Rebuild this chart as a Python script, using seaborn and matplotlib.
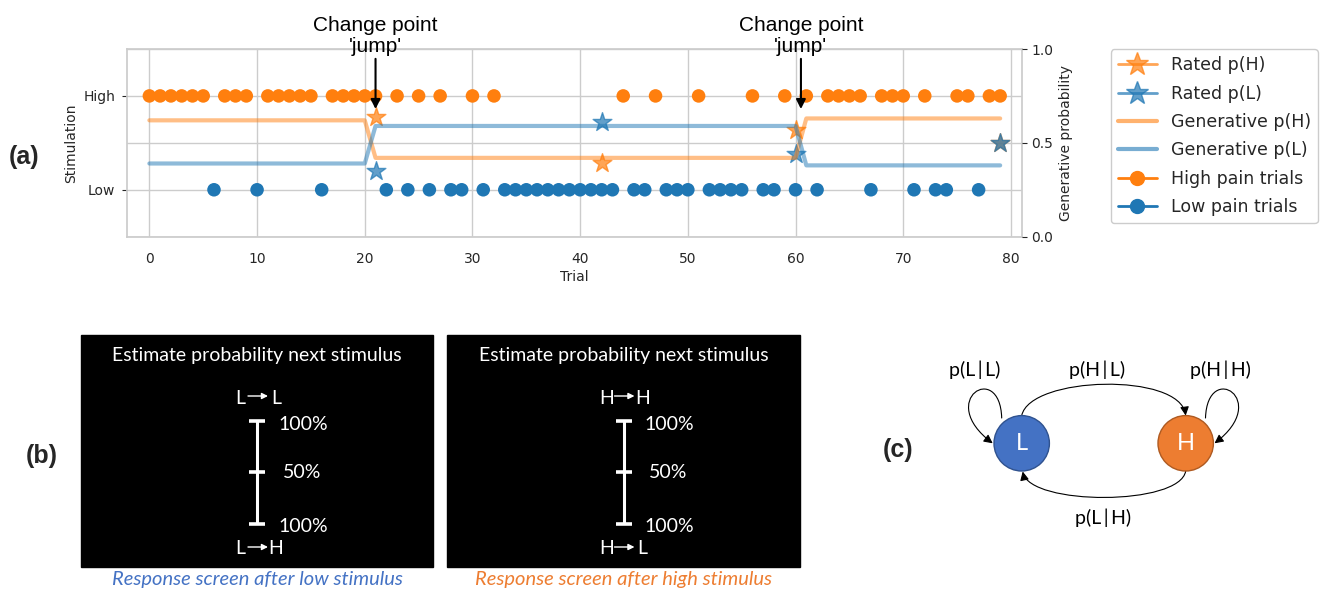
import numpy as np
import pandas as pd
import matplotlib.pyplot as plt
import seaborn as sns
from matplotlib.lines import Line2D
from matplotlib.patches import Rectangle, Circle, FancyArrowPatch
from matplotlib.path import Path

# stimulation delivered on each trial (H = high pain, L = low pain), trials 0-79
stimulation = ("HHHHHHLHHH" "LHHHHHLHHH" "HHLHLHLHLL" "HLHLLLLLLL"
               "LLLLHLLHLL" "LHLLLLHLLH" "LHLHHHHLHH" "HLHLLHHLHH")

# generative probabilities, constant between the change points
segment_lengths = [21, 40, 19]
generative_ph = [0.62, 0.42, 0.63]
generative_pl = [0.39, 0.59, 0.38]

# probability ratings given by the participant
rated_trials = [21, 42, 60, 79]
rated_ph = [0.64, 0.39, 0.57, 0.50]
rated_pl = [0.35, 0.61, 0.44, 0.50]

change_points = [21, 60.5]

trial_ticks = [0, 10, 20, 30, 40, 50, 60, 70, 80]
stim_ticks = [0, 1]
stim_labels = ["Low", "High"]
prob_ticks = [0.0, 0.5, 1.0]

ORANGE = "#ff7f0e"
BLUE = "#1f77b4"
PPT_BLUE = "#4472C4"
PPT_ORANGE = "#ED7D31"
BOX_FONT = ["Lato", "DejaVu Sans"]

sns.set_theme(style="whitegrid")
plt.rcParams["font.family"] = ["DejaVu Sans"]

trials = np.arange(len(stimulation))
stim_df = pd.DataFrame({"trial": trials, "stim": list(stimulation)})
stim_df["level"] = (stim_df["stim"] == "H").astype(int)

gen_df = pd.DataFrame({
    "trial": np.concatenate([trials, trials]),
    "p": np.concatenate([np.repeat(generative_ph, segment_lengths),
                         np.repeat(generative_pl, segment_lengths)]),
    "series": ["p(H)"] * len(trials) + ["p(L)"] * len(trials),
})

fig = plt.figure(figsize=(13.25, 5.91), dpi=100)

# ---------------- panel (a) ----------------
ax1 = fig.add_axes([127.3 / 1325, 1 - 236.7 / 591, 894.4 / 1325, 187.7 / 591])
ax2 = ax1.twinx()

sns.scatterplot(data=stim_df, x="trial", y="level", hue="stim",
                palette={"H": ORANGE, "L": BLUE}, s=95, linewidth=0,
                legend=False, ax=ax1)

sns.lineplot(data=gen_df, x="trial", y="p", hue="series",
             palette=[ORANGE, BLUE], lw=3, alpha=0.5, legend=False, ax=ax2)
sns.scatterplot(x=rated_trials, y=rated_ph, marker="*", s=200, color=ORANGE,
                edgecolor=ORANGE, alpha=0.7, linewidth=1, ax=ax2)
sns.scatterplot(x=rated_trials, y=rated_pl, marker="*", s=200, color=BLUE,
                edgecolor=BLUE, alpha=0.7, linewidth=1, ax=ax2)

ax1.set_xlim(-2.05, 81.0)
ax1.set_xticks(trial_ticks)
ax1.set_ylim(-0.5, 1.5)
ax1.set_yticks(stim_ticks)
ax1.set_yticklabels(stim_labels)
ax1.set_xlabel("Trial", fontsize=10, labelpad=3)
ax1.set_ylabel("Stimulation", fontsize=10)
ax1.tick_params(axis="x", labelsize=10, bottom=False, pad=5)
ax1.tick_params(axis="y", labelsize=10, left=True, length=3.5, width=0.8,
                color=".15", pad=5)

ax2.set_ylim(0, 1)
ax2.set_yticks(prob_ticks)
ax2.set_ylabel("Generative probability", fontsize=10)
ax2.tick_params(axis="y", labelsize=10, right=True, length=3.5, width=0.8,
                color=".15", pad=3.5)
for sp in ax2.spines.values():
    sp.set_visible(False)

for cp in change_points:
    ax2.annotate("Change point\n'jump'", xy=(cp, 0.68), xytext=(cp, 0.965),
                 ha="center", va="bottom", fontsize=15, linespacing=1.1,
                 family="Liberation Sans", color="black",
                 annotation_clip=False,
                 arrowprops=dict(arrowstyle="-|>", color="black", lw=1.5,
                                 mutation_scale=14, shrinkA=0, shrinkB=0))

handles = [
    Line2D([], [], color=ORANGE, marker="*", markersize=17, lw=2, alpha=0.7),
    Line2D([], [], color=BLUE, marker="*", markersize=17, lw=2, alpha=0.7),
    Line2D([], [], color=ORANGE, lw=3, alpha=0.6),
    Line2D([], [], color=BLUE, lw=3, alpha=0.6),
    Line2D([], [], color=ORANGE, marker="o", markersize=10, lw=2),
    Line2D([], [], color=BLUE, marker="o", markersize=10, lw=2),
]
labels = ["Rated p(H)", "Rated p(L)", "Generative p(H)", "Generative p(L)",
          "High pain trials", "Low pain trials"]
fig.legend(handles, labels, loc="upper left",
           bbox_to_anchor=(1110.7 / 1325, 1 - 49.3 / 591), borderaxespad=0,
           fontsize=12.5, handlelength=2.25, labelspacing=0.6, framealpha=1,
           edgecolor=".8")

# ---------------- panels (b) and (c), drawn in pixel coordinates ----------------
ov = fig.add_axes([0, 0, 1, 1])
ov.set_xlim(0, 1325)
ov.set_ylim(591, 0)
ov.axis("off")

for tag, tx, ty in [("(a)", 24, 157), ("(b)", 42, 456), ("(c)", 898, 450)]:
    fig.text(tx / 1325, 1 - ty / 591, tag, fontsize=18, fontweight="bold",
             family="Liberation Sans", ha="center", va="center")


def response_screen(x0, width, stim, top_to, bottom_to, caption, cap_color):
    cx = x0 + width / 2
    ov.add_patch(Rectangle((x0, 335), width, 231.5, color="black"))
    ov.text(cx, 355, "Estimate probability next stimulus", color="white",
            fontsize=14, family=BOX_FONT, ha="center", va="center")
    # rating scale
    ov.plot([cx, cx], [421, 524.3], color="white", lw=2.2,
            solid_capstyle="butt")
    for yy in [421, 471.7, 524.3]:
        ov.plot([cx - 8, cx + 8], [yy, yy], color="white", lw=2.6,
                solid_capstyle="butt")
    ov.text(cx + 21, 424, "100%", color="white", fontsize=14,
            family=BOX_FONT, ha="left", va="center")
    ov.text(cx + 25.5, 473, "50%", color="white", fontsize=14,
            family=BOX_FONT, ha="left", va="center")
    ov.text(cx + 21, 527, "100%", color="white", fontsize=14,
            family=BOX_FONT, ha="left", va="center")
    # transition labels above and below the scale
    for yy, to in [(398, top_to), (549, bottom_to)]:
        ov.text(cx - 17, yy, stim, color="white", fontsize=14,
                family=BOX_FONT, ha="center", va="center")
        ov.text(cx + 19, yy, to, color="white", fontsize=14,
                family=BOX_FONT, ha="center", va="center")
        ov.annotate("", xy=(cx + 11, yy - 2), xytext=(cx - 9, yy - 2),
                    arrowprops=dict(arrowstyle="-|>", color="white", lw=1,
                                    mutation_scale=9, shrinkA=0, shrinkB=0))
    ov.text(cx, 579, caption, color=cap_color, fontsize=14.5, style="italic",
            family=BOX_FONT, ha="center", va="center")


response_screen(81, 352, "L", "L", "H", "Response screen after low stimulus",
                PPT_BLUE)
response_screen(447, 353, "H", "H", "L", "Response screen after high stimulus",
                PPT_ORANGE)

# state diagram
states = {"L": (1021.7, 443.3, PPT_BLUE, "#2F528F"),
          "H": (1185.7, 443.3, PPT_ORANGE, "#AE5A21")}
for name, (sx, sy, fc, ec) in states.items():
    ov.add_patch(Circle((sx, sy), 27.7, facecolor=fc, edgecolor=ec, lw=1,
                        zorder=3))
    ov.text(sx, sy, name, color="white", fontsize=17, family=BOX_FONT,
            ha="center", va="center", zorder=4)

curves = [
    [(1001.7, 418), (1000, 360), (935, 400), (992.7, 443.3)],   # L -> L
    [(1205.5, 418), (1207.4, 360), (1272, 400), (1214.5, 443.3)],  # H -> H
    [(1021.7, 415.6), (1030, 376), (1180, 372), (1185.7, 415.6)],  # L -> H
    [(1185.7, 471), (1180, 506), (1030, 506), (1022.7, 471.5)],    # H -> L
]
codes = [Path.MOVETO, Path.CURVE4, Path.CURVE4, Path.CURVE4]
for verts in curves:
    ov.add_patch(FancyArrowPatch(path=Path(verts, codes), arrowstyle="-|>",
                                 mutation_scale=13, lw=0.8, color="black",
                                 zorder=2))

for lbl, lx, ly in [("p(L\u2009|\u2009L)", 975, 370),
                    ("p(H\u2009|\u2009L)", 1097, 370),
                    ("p(H\u2009|\u2009H)", 1220, 370),
                    ("p(L\u2009|\u2009H)", 1103, 518)]:
    ov.text(lx, ly, lbl, fontsize=14, family=BOX_FONT, color="black",
            ha="center", va="center")

fig.savefig("out.png", dpi=100)
